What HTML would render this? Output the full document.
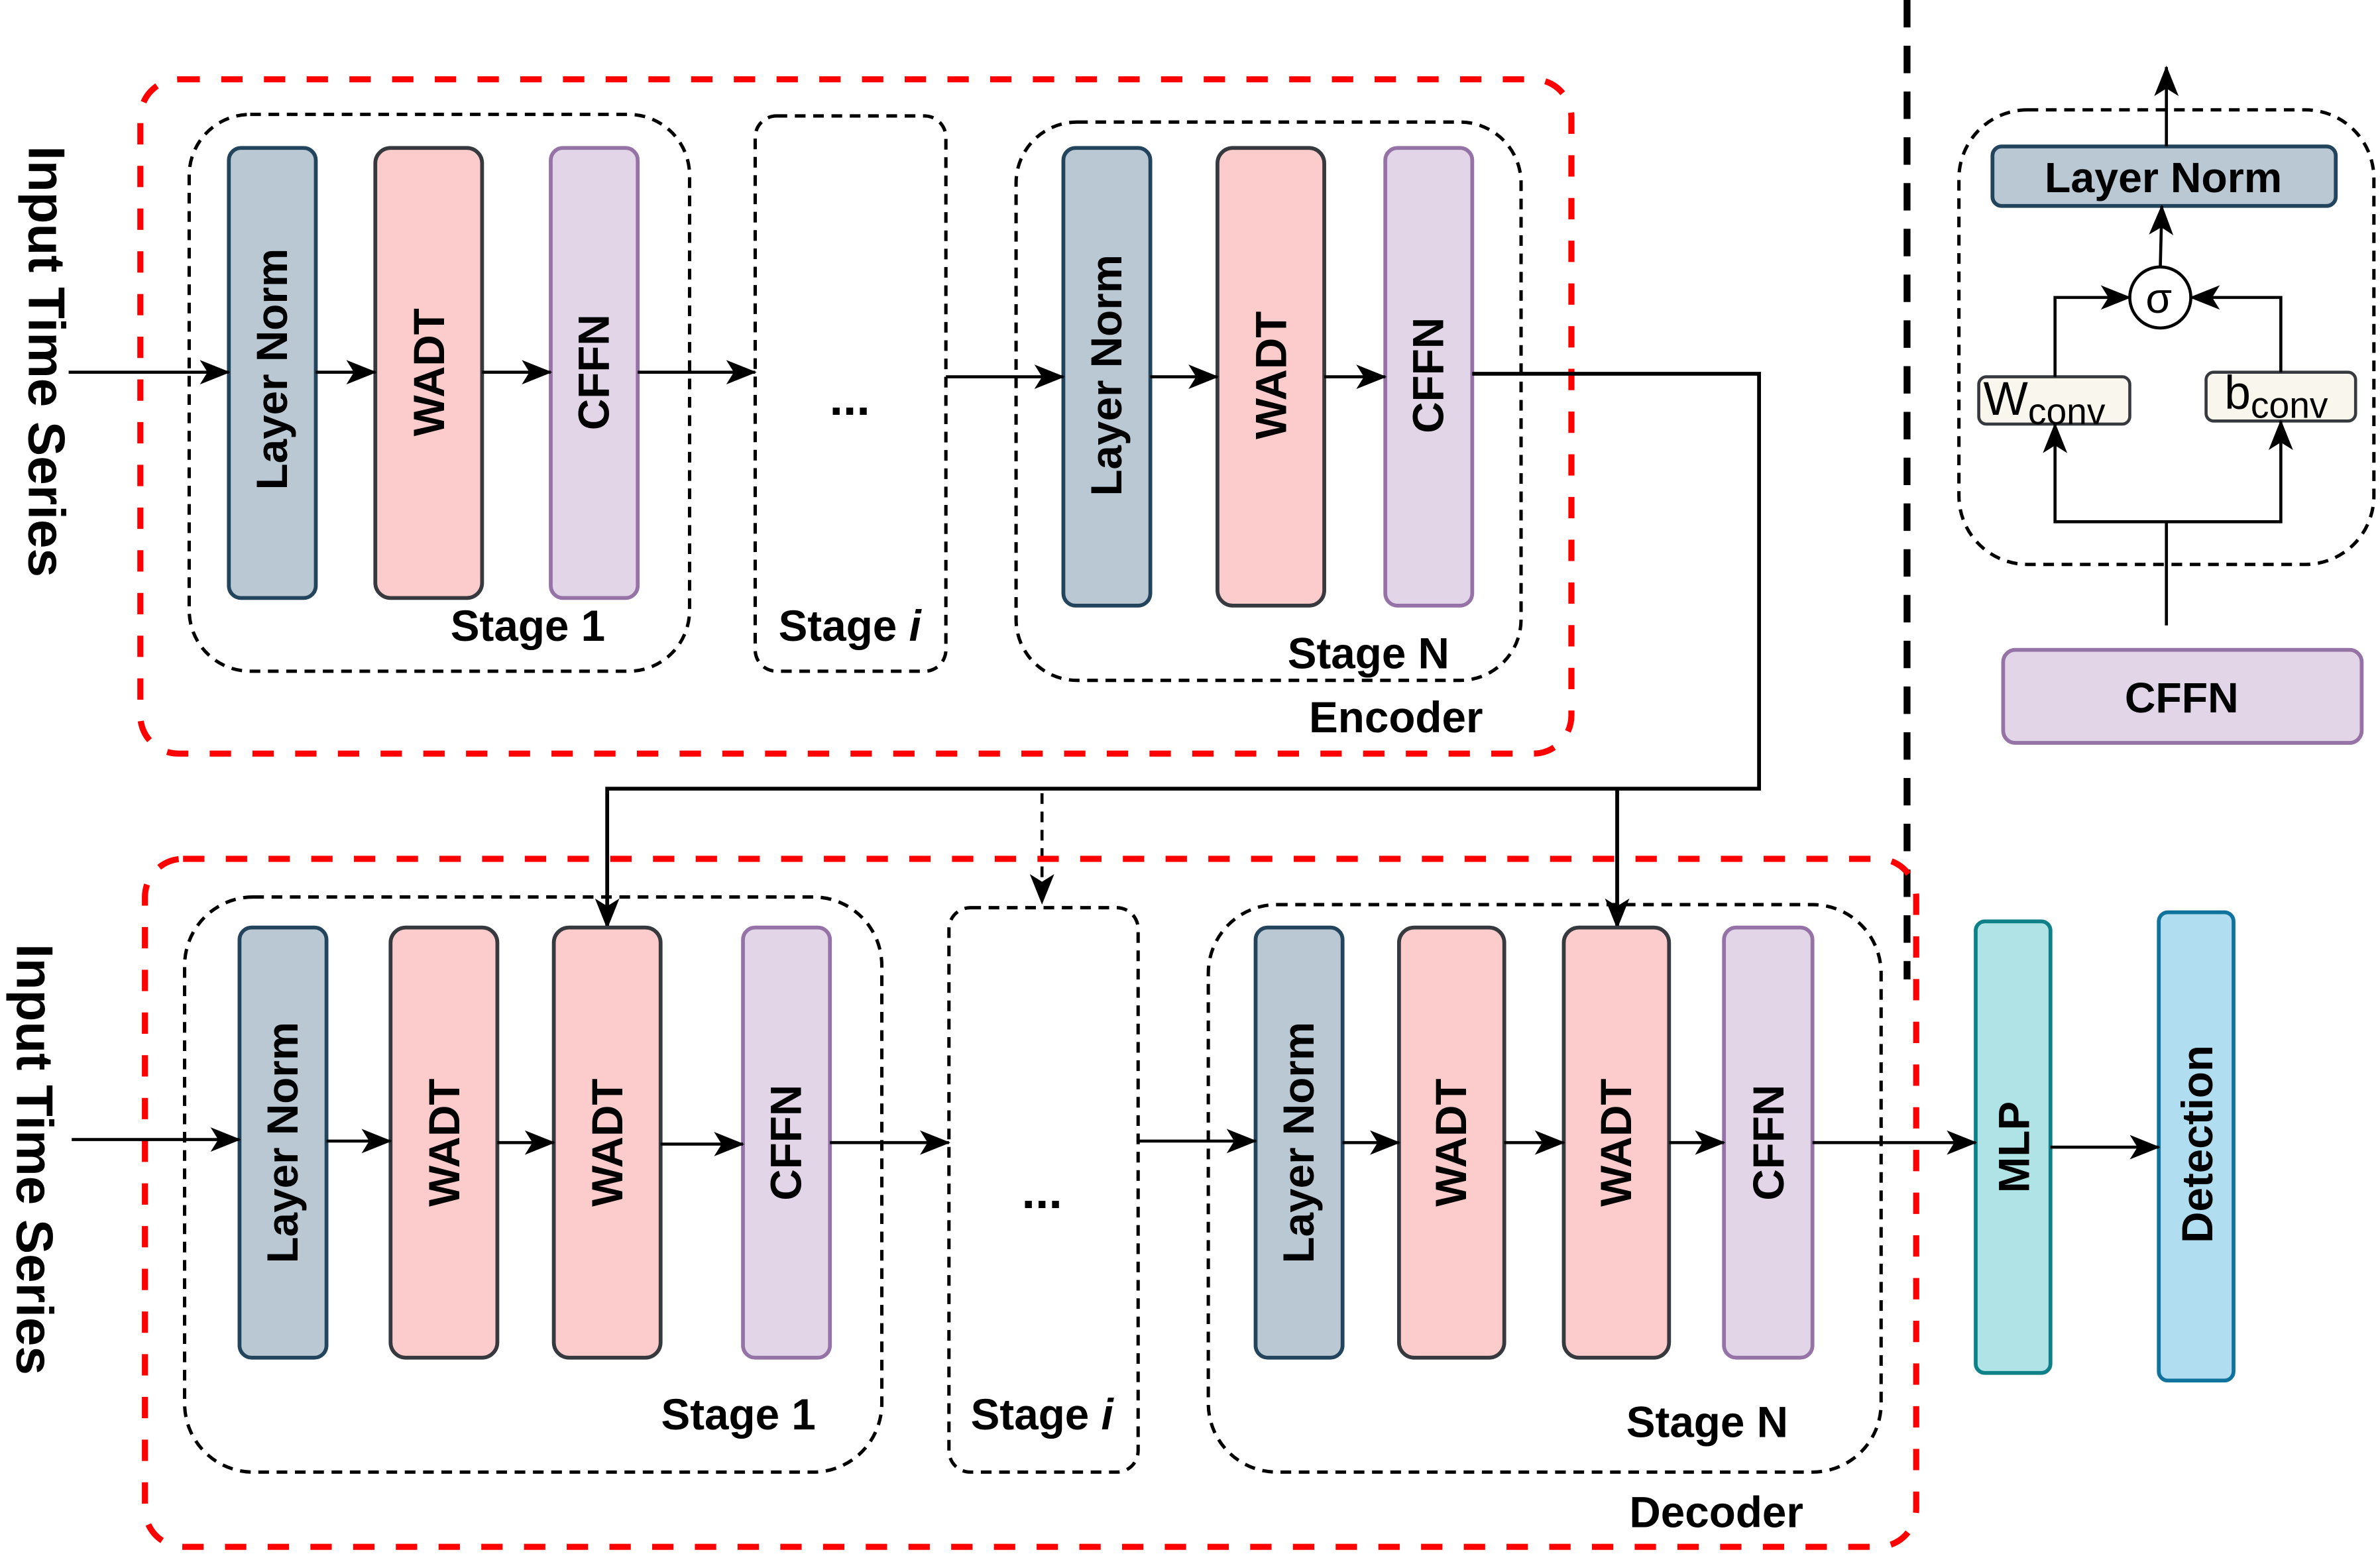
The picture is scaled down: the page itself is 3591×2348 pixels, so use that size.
<!DOCTYPE html>
<html><head><meta charset="utf-8">
<style>html,body{margin:0;padding:0;background:#fff;}svg{display:block;}</style></head>
<body>
<svg width="3591" height="2348" viewBox="0 0 1560 1020" preserveAspectRatio="none" xmlns="http://www.w3.org/2000/svg" font-family="Liberation Sans, Arial, sans-serif" font-weight="bold">
<defs>
<marker id="a" viewBox="0 0 20 16" refX="19" refY="8" markerWidth="20" markerHeight="16" markerUnits="userSpaceOnUse" orient="auto">
<path d="M0,0 L20,8 L0,16 L5,8 Z" fill="#000"/></marker>
</defs>
<line x1="1250" y1="0" x2="1250" y2="642" stroke="#000" stroke-width="4.5" stroke-dasharray="18,12"/>
<!-- Encoder -->
<rect x="92" y="52" width="938" height="442" rx="25" fill="none" stroke="#f00" stroke-width="4" stroke-dasharray="14,14"/>
<rect x="124" y="75" width="328" height="365" rx="40" fill="none" stroke="#000" stroke-width="2.2" stroke-dasharray="7,5"/>
<rect x="495" y="76" width="125" height="364" rx="14" fill="none" stroke="#000" stroke-width="2.2" stroke-dasharray="7,5"/>
<rect x="666" y="80" width="331" height="366" rx="40" fill="none" stroke="#000" stroke-width="2.2" stroke-dasharray="7,5"/>
<g stroke-width="2.5">
<rect x="150" y="97" width="57" height="295" rx="8" fill="#bac8d3" stroke="#23445d"/>
<rect x="246" y="97" width="70" height="295" rx="10" fill="#fccbcb" stroke="#36393d"/>
<rect x="361" y="97" width="57" height="295" rx="8" fill="#e1d5e7" stroke="#9673a6"/>
<rect x="697" y="97" width="57" height="300" rx="8" fill="#bac8d3" stroke="#23445d"/>
<rect x="798" y="97" width="70" height="300" rx="10" fill="#fccbcb" stroke="#36393d"/>
<rect x="908" y="97" width="57" height="300" rx="8" fill="#e1d5e7" stroke="#9673a6"/>
</g>
<g font-size="28.5" text-anchor="middle">
<text transform="translate(188,242) rotate(-90)">Layer Norm</text>
<text transform="translate(291,244) rotate(-90)">WADT</text>
<text transform="translate(399,244) rotate(-90)">CFFN</text>
<text transform="translate(735,246) rotate(-90)">Layer Norm</text>
<text transform="translate(843,246) rotate(-90)">WADT</text>
<text transform="translate(946,246) rotate(-90)">CFFN</text>
<text x="346" y="420">Stage 1</text>
<text x="557" y="420">Stage <tspan font-style="italic">i</tspan></text>
<text x="897" y="438">Stage N</text>
<text x="915" y="480">Encoder</text>
<text x="557" y="272" font-size="32">...</text>
</g>
<g stroke="#000" stroke-width="2" fill="none" marker-end="url(#a)">
<line x1="45" y1="244" x2="150" y2="244"/>
<line x1="207" y1="244" x2="246" y2="244"/>
<line x1="316" y1="244" x2="361" y2="244"/>
<line x1="418" y1="244" x2="495" y2="244"/>
<line x1="620" y1="247" x2="697" y2="247"/>
<line x1="754" y1="247" x2="798" y2="247"/>
<line x1="868" y1="247" x2="908" y2="247"/>
<polyline points="965,245 1153,245 1153,517 398,517 398,608" stroke-width="2.5"/>
<line x1="1060" y1="517" x2="1060" y2="608" stroke-width="2.5"/>
<line x1="683" y1="520" x2="683" y2="592" stroke-dasharray="7,5"/>
</g>
<!-- Decoder -->
<rect x="95" y="563" width="1161" height="451" rx="25" fill="none" stroke="#f00" stroke-width="4" stroke-dasharray="14,14"/>
<rect x="121" y="588" width="457" height="377" rx="45" fill="none" stroke="#000" stroke-width="2.2" stroke-dasharray="7,5"/>
<rect x="622" y="595" width="124" height="370" rx="14" fill="none" stroke="#000" stroke-width="2.2" stroke-dasharray="7,5"/>
<rect x="792" y="593" width="441" height="372" rx="45" fill="none" stroke="#000" stroke-width="2.2" stroke-dasharray="7,5"/>
<g stroke-width="2.5">
<rect x="157" y="608" width="57" height="282" rx="8" fill="#bac8d3" stroke="#23445d"/>
<rect x="256" y="608" width="70" height="282" rx="10" fill="#fccbcb" stroke="#36393d"/>
<rect x="363" y="608" width="70" height="282" rx="10" fill="#fccbcb" stroke="#36393d"/>
<rect x="487" y="608" width="57" height="282" rx="8" fill="#e1d5e7" stroke="#9673a6"/>
<rect x="823" y="608" width="57" height="282" rx="8" fill="#bac8d3" stroke="#23445d"/>
<rect x="917" y="608" width="69" height="282" rx="10" fill="#fccbcb" stroke="#36393d"/>
<rect x="1025" y="608" width="69" height="282" rx="10" fill="#fccbcb" stroke="#36393d"/>
<rect x="1130" y="608" width="58" height="282" rx="8" fill="#e1d5e7" stroke="#9673a6"/>
<rect x="1295" y="604" width="49" height="296" rx="6" fill="#b0e3e6" stroke="#0e8088"/>
<rect x="1415" y="598" width="49" height="307" rx="6" fill="#b1ddf0" stroke="#10739e"/>
</g>
<g font-size="28.5" text-anchor="middle">
<text transform="translate(195,749) rotate(-90)">Layer Norm</text>
<text transform="translate(301,749) rotate(-90)">WADT</text>
<text transform="translate(408,749) rotate(-90)">WADT</text>
<text transform="translate(525,749) rotate(-90)">CFFN</text>
<text transform="translate(861,749) rotate(-90)">Layer Norm</text>
<text transform="translate(961,749) rotate(-90)">WADT</text>
<text transform="translate(1069,749) rotate(-90)">WADT</text>
<text transform="translate(1169,749) rotate(-90)">CFFN</text>
<text transform="translate(1330,752) rotate(-90)">MLP</text>
<text transform="translate(1450,750) rotate(-90)">Detection</text>
<text x="484" y="937">Stage 1</text>
<text x="683" y="937">Stage <tspan font-style="italic">i</tspan></text>
<text x="1119" y="942">Stage N</text>
<text x="1125" y="1001">Decoder</text>
<text x="683" y="792" font-size="32">...</text>
</g>
<g stroke="#000" stroke-width="2" fill="none" marker-end="url(#a)">
<line x1="47" y1="747" x2="157" y2="747"/>
<line x1="214" y1="748" x2="256" y2="748"/>
<line x1="326" y1="749" x2="363" y2="749"/>
<line x1="433" y1="750" x2="487" y2="750"/>
<line x1="544" y1="749" x2="622" y2="749"/>
<line x1="746" y1="748" x2="823" y2="748"/>
<line x1="880" y1="749" x2="917" y2="749"/>
<line x1="986" y1="749" x2="1025" y2="749"/>
<line x1="1094" y1="749" x2="1130" y2="749"/>
<line x1="1188" y1="749" x2="1295" y2="749"/>
<line x1="1344" y1="752" x2="1415" y2="752"/>
</g>
<g font-size="34" text-anchor="middle">
<text transform="translate(19,237) rotate(90)">Input Time Series</text>
<text transform="translate(11,760) rotate(90)">Input Time Series</text>
</g>
<!-- Right panel -->
<rect x="1284" y="72" width="272" height="298" rx="45" fill="none" stroke="#000" stroke-width="2.2" stroke-dasharray="7,5"/>
<rect x="1306" y="96" width="225" height="39" rx="6" fill="#bac8d3" stroke="#23445d" stroke-width="2.5"/>
<text x="1418" y="126" font-size="28" text-anchor="middle">Layer Norm</text>
<circle cx="1416" cy="195" r="20" fill="#fff" stroke="#000" stroke-width="2"/>
<text x="1415" y="205" font-size="28" font-weight="normal" text-anchor="middle">σ</text>
<rect x="1297" y="247" width="99" height="31" rx="5" fill="#f9f7ed" stroke="#36393d" stroke-width="2"/>
<rect x="1446" y="244" width="98" height="32" rx="5" fill="#f9f7ed" stroke="#36393d" stroke-width="2"/>
<text x="1300" y="272" font-size="31" font-weight="normal">W<tspan font-size="24" dy="6">conv</tspan></text>
<text x="1458" y="268" font-size="31" font-weight="normal">b<tspan font-size="24" dy="6">conv</tspan></text>
<rect x="1313" y="426" width="235" height="61" rx="8" fill="#e1d5e7" stroke="#9673a6" stroke-width="2.5"/>
<text x="1430" y="467" font-size="28" text-anchor="middle">CFFN</text>
<g stroke="#000" stroke-width="2" fill="none" marker-end="url(#a)">
<polyline points="1420,410 1420,342 1347,342 1347,278"/>
<polyline points="1420,342 1495,342 1495,276"/>
<polyline points="1347,247 1347,195 1396,195"/>
<polyline points="1495,244 1495,195 1436,195"/>
<line x1="1416" y1="175" x2="1417" y2="135"/>
<line x1="1420" y1="96" x2="1420" y2="44"/>
</g>
</svg>
</body></html>
